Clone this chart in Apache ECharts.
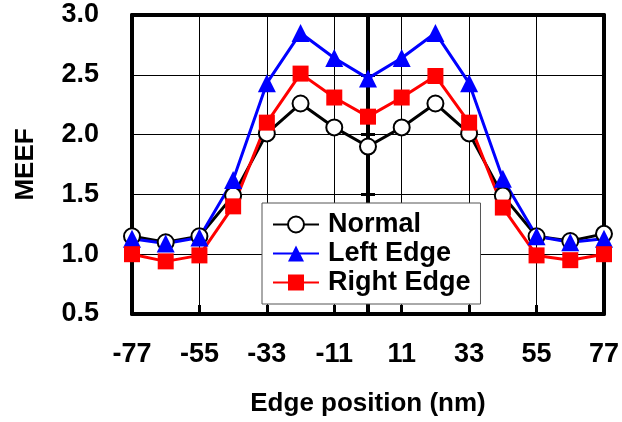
<!DOCTYPE html>
<html>
<head>
<meta charset="utf-8">
<script src="https://cdn.jsdelivr.net/npm/echarts@6/dist/echarts.min.js"></script>
<style>
html,body{margin:0;padding:0;background:#fff;}
#chart{width:622px;height:422px;}
</style>
</head>
<body>
<div id="chart"></div>
<script>
var xCats = ['-77','-66','-55','-44','-33','-22','-11','0','11','22','33','44','55','66','77'];
var normal = [1.15,1.10,1.15,1.49,2.01,2.26,2.06,1.90,2.06,2.26,2.01,1.49,1.15,1.11,1.17];
var leftEdge = [1.13,1.09,1.14,1.62,2.43,2.85,2.64,2.47,2.64,2.85,2.43,1.63,1.15,1.10,1.13];
var rightEdge = [1.00,0.94,0.99,1.40,2.10,2.51,2.31,2.15,2.31,2.49,2.10,1.39,0.99,0.95,1.00];
var yMin = 0.5, yMax = 3.0, yStep = 0.5;
var xMin = -77, xMax = 77;

var font = 'Liberation Sans, Arial, sans-serif';
var chart = echarts.init(document.getElementById('chart'), null, {renderer:'canvas'});

function centerAxis(pos, idx) {
  return {
    type: 'value', min: yMin, max: yMax, interval: yStep, position: pos,
    axisLine: {show: true, onZero: true, onZeroAxisIndex: idx, lineStyle: {color: '#000', width: 4}},
    axisTick: {show: true, length: 7, lineStyle: {color: '#000', width: 3}},
    axisLabel: {show: false},
    splitLine: {show: false}
  };
}

chart.setOption({
  animation: false,
  backgroundColor: '#fff',
  grid: {left: 132, right: 14, top: 15, bottom: 107},
  legend: {
    orient: 'vertical', left: 262, top: 203,
    padding: [8, 10, 8, 10], itemGap: 2, itemWidth: 46, itemHeight: 20,
    backgroundColor: '#fff', borderColor: '#555', borderWidth: 1,
    textStyle: {fontFamily: font, fontSize: 27, fontWeight: 'bold', color: '#000', padding: [0,0,0,4]},
    data: ['Normal', 'Left Edge', 'Right Edge']
  },
  xAxis: [
    {
      type: 'category', data: xCats, boundaryGap: false,
      name: 'Edge position (nm)', nameLocation: 'middle', nameGap: 77,
      nameTextStyle: {fontFamily: font, fontSize: 26, fontWeight: 'bold', color: '#000'},
      axisLine: {onZero: false, lineStyle: {color: '#000', width: 4}},
      axisTick: {show: true, inside: true, interval: 1, length: 9, lineStyle: {color: '#000', width: 3}},
      axisLabel: {interval: 1, margin: 27, fontFamily: font, fontSize: 27, fontWeight: 'bold', color: '#000'},
      splitLine: {show: true, interval: 1, lineStyle: {color: '#000', width: 1}}
    },
    {type: 'value', min: xMin, max: xMax, show: false},
    {type: 'value', min: xMin, max: xMax, show: false},
    {
      type: 'category', data: xCats, boundaryGap: false, position: 'top',
      axisLine: {show: true, onZero: false, lineStyle: {color: '#000', width: 4}},
      axisTick: {show: false}, axisLabel: {show: false}, splitLine: {show: false}
    }
  ],
  yAxis: [
    {
      type: 'value', min: yMin, max: yMax, interval: yStep,
      name: 'MEEF', nameLocation: 'middle', nameGap: 93, nameRotate: 90,
      nameTextStyle: {fontFamily: font, fontSize: 26, fontWeight: 'bold', color: '#000'},
      axisLine: {show: true, onZero: false, lineStyle: {color: '#000', width: 4}},
      axisTick: {show: false},
      axisLabel: {margin: 33, fontFamily: font, fontSize: 27, fontWeight: 'bold', color: '#000',
        padding: [10, 0, 0, 0], formatter: function (v) { return v.toFixed(1); }},
      splitLine: {show: true, lineStyle: {color: '#000', width: 1}}
    },
    centerAxis('left', 1),
    centerAxis('right', 2),
    {
      type: 'value', min: yMin, max: yMax, interval: yStep, position: 'right',
      axisLine: {show: true, onZero: false, lineStyle: {color: '#000', width: 4}},
      axisTick: {show: false}, axisLabel: {show: false}, splitLine: {show: false}
    }
  ],
  series: [
    {
      name: 'Normal', type: 'line', data: normal, xAxisIndex: 0, yAxisIndex: 0,
      symbol: 'circle', symbolSize: 16, color: '#000',
      lineStyle: {color: '#000', width: 3},
      itemStyle: {color: '#fff', borderColor: '#000', borderWidth: 2}
    },
    {
      name: 'Left Edge', type: 'line', data: leftEdge, xAxisIndex: 0, yAxisIndex: 0,
      symbol: 'triangle', symbolSize: 18, color: '#0000ff',
      lineStyle: {color: '#0000ff', width: 3},
      itemStyle: {color: '#0000ff'}
    },
    {
      name: 'Right Edge', type: 'line', data: rightEdge, xAxisIndex: 0, yAxisIndex: 0,
      symbol: 'rect', symbolSize: 16, color: '#ff0000',
      lineStyle: {color: '#ff0000', width: 3},
      itemStyle: {color: '#ff0000'}
    }
  ]
});
</script>
</body>
</html>
